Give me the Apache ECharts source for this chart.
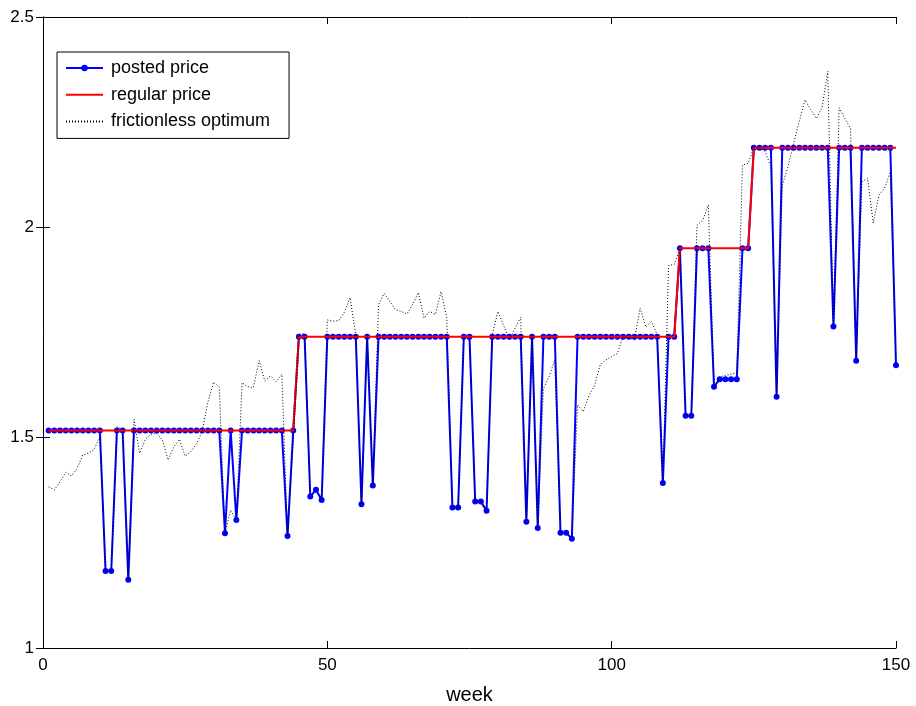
<!DOCTYPE html>
<html>
<head>
<meta charset="utf-8">
<script src="https://cdn.jsdelivr.net/npm/echarts@6/dist/echarts.min.js"></script>
<style>
html,body{margin:0;padding:0;background:#fff;}
#chart{width:916px;height:706px;}
</style>
</head>
<body>
<div id="chart"></div>
<script>
// weeks 1..150
const weeks = Array.from({length: 150}, (_, i) => i + 1);

const postedPrice = [
  1.517,1.517,1.517,1.517,1.517,1.517,1.517,1.517,1.517,1.517,      // 1-10
  1.183,1.183,1.517,1.517,1.162,1.517,1.517,1.517,1.517,1.517,      // 11-20
  1.517,1.517,1.517,1.517,1.517,1.517,1.517,1.517,1.517,1.517,      // 21-30
  1.517,1.273,1.517,1.304,1.517,1.517,1.517,1.517,1.517,1.517,      // 31-40
  1.517,1.517,1.266,1.517,1.74,1.74,1.36,1.376,1.352,1.74,          // 41-50
  1.74,1.74,1.74,1.74,1.74,1.342,1.74,1.386,1.74,1.74,              // 51-60
  1.74,1.74,1.74,1.74,1.74,1.74,1.74,1.74,1.74,1.74,                // 61-70
  1.74,1.334,1.334,1.74,1.74,1.348,1.348,1.326,1.74,1.74,           // 71-80
  1.74,1.74,1.74,1.74,1.30,1.74,1.285,1.74,1.74,1.74,               // 81-90
  1.274,1.274,1.26,1.74,1.74,1.74,1.74,1.74,1.74,1.74,              // 91-100
  1.74,1.74,1.74,1.74,1.74,1.74,1.74,1.74,1.392,1.74,               // 101-110
  1.74,1.95,1.552,1.552,1.95,1.95,1.95,1.621,1.639,1.639,           // 111-120
  1.639,1.639,1.95,1.95,2.189,2.189,2.189,2.189,1.597,2.189,        // 121-130
  2.189,2.189,2.189,2.189,2.189,2.189,2.189,2.189,1.764,2.189,      // 131-140
  2.189,2.189,1.683,2.189,2.189,2.189,2.189,2.189,2.189,1.672       // 141-150
];

const regularPrice = [
  1.517,1.517,1.517,1.517,1.517,1.517,1.517,1.517,1.517,1.517,
  1.517,1.517,1.517,1.517,1.517,1.517,1.517,1.517,1.517,1.517,
  1.517,1.517,1.517,1.517,1.517,1.517,1.517,1.517,1.517,1.517,
  1.517,1.517,1.517,1.517,1.517,1.517,1.517,1.517,1.517,1.517,
  1.517,1.517,1.517,1.517,1.74,1.74,1.74,1.74,1.74,1.74,
  1.74,1.74,1.74,1.74,1.74,1.74,1.74,1.74,1.74,1.74,
  1.74,1.74,1.74,1.74,1.74,1.74,1.74,1.74,1.74,1.74,
  1.74,1.74,1.74,1.74,1.74,1.74,1.74,1.74,1.74,1.74,
  1.74,1.74,1.74,1.74,1.74,1.74,1.74,1.74,1.74,1.74,
  1.74,1.74,1.74,1.74,1.74,1.74,1.74,1.74,1.74,1.74,
  1.74,1.74,1.74,1.74,1.74,1.74,1.74,1.74,1.74,1.74,
  1.74,1.95,1.95,1.95,1.95,1.95,1.95,1.95,1.95,1.95,
  1.95,1.95,1.95,1.95,2.189,2.189,2.189,2.189,2.189,2.189,
  2.189,2.189,2.189,2.189,2.189,2.189,2.189,2.189,2.189,2.189,
  2.189,2.189,2.189,2.189,2.189,2.189,2.189,2.189,2.189,2.189
];

const frictionlessOptimum = [
  1.383,1.376,1.395,1.418,1.409,1.427,1.459,1.463,1.472,1.502,      // 1-10
  1.183,1.183,1.526,1.520,1.162,1.544,1.463,1.496,1.508,1.510,      // 11-20
  1.494,1.447,1.478,1.496,1.456,1.467,1.485,1.515,1.585,1.632,      // 21-30
  1.620,1.273,1.328,1.304,1.631,1.621,1.619,1.683,1.635,1.647,      // 31-40
  1.633,1.651,1.266,1.490,1.745,1.748,1.360,1.376,1.352,1.780,      // 41-50
  1.777,1.778,1.798,1.833,1.744,1.342,1.745,1.386,1.816,1.843,      // 51-60
  1.824,1.804,1.800,1.794,1.817,1.845,1.784,1.800,1.793,1.847,      // 61-70
  1.785,1.334,1.334,1.740,1.730,1.348,1.348,1.326,1.745,1.800,      // 71-80
  1.767,1.732,1.760,1.786,1.300,1.740,1.285,1.617,1.645,1.685,      // 81-90
  1.274,1.274,1.260,1.578,1.562,1.600,1.624,1.674,1.685,1.693,      // 91-100
  1.700,1.740,1.738,1.732,1.808,1.763,1.776,1.745,1.392,1.909,      // 101-110
  1.912,1.950,1.552,1.552,2.005,2.017,2.053,1.621,1.644,1.648,      // 111-120
  1.651,1.654,2.148,2.152,2.190,2.190,2.180,2.144,1.597,2.100,      // 121-130
  2.144,2.200,2.253,2.303,2.280,2.259,2.285,2.371,1.764,2.284,      // 131-140
  2.259,2.235,1.683,2.108,2.117,2.010,2.077,2.093,2.132,1.672       // 141-150
];

const xTicks = [0, 50, 100, 150];
const yTicks = [1, 1.5, 2, 2.5];

const pair = arr => weeks.map((w, i) => [w, arr[i]]);

const chart = echarts.init(document.getElementById('chart'), null, {renderer: 'canvas'});
const FONT = 'Liberation Sans, Arial, sans-serif';

const axisCommon = {
  axisLine: {show: true, lineStyle: {color: '#000', width: 1}},
  axisTick: {show: true, inside: true, length: 7, lineStyle: {color: '#000', width: 1}},
  splitLine: {show: false}
};

chart.setOption({
  animation: false,
  backgroundColor: '#fff',
  grid: {left: 43, right: 20, top: 17, bottom: 58, show: false,
         containLabel: false, outerBoundsMode: 'none'},
  legend: {
    orient: 'vertical',
    left: 57,
    top: 52,
    backgroundColor: '#fff',
    borderColor: '#000',
    borderWidth: 1,
    borderRadius: 0,
    padding: [7, 19, 8, 8],
    itemWidth: 37,
    itemHeight: 8,
    itemGap: 8.7,
    textStyle: {fontFamily: FONT, fontSize: 18, color: '#000', padding: [0, 0, 0, 3]},
    data: [
      {name: 'posted price'},
      {name: 'regular price', itemStyle: {opacity: 0}},
      {name: 'frictionless optimum', itemStyle: {opacity: 0}}
    ]
  },
  xAxis: [
    Object.assign({
      type: 'value', min: xTicks[0], max: xTicks[xTicks.length - 1], interval: 50,
      position: 'bottom',
      name: 'week', nameLocation: 'middle', nameGap: 37,
      nameTextStyle: {fontFamily: FONT, fontSize: 20, color: '#000'},
      axisLabel: {fontFamily: FONT, fontSize: 17, color: '#000', margin: 9}
    }, axisCommon),
    Object.assign({
      type: 'value', min: xTicks[0], max: xTicks[xTicks.length - 1], interval: 50,
      position: 'top', axisLabel: {show: false}
    }, axisCommon)
  ],
  yAxis: [
    Object.assign({
      type: 'value', min: yTicks[0], max: yTicks[yTicks.length - 1], interval: 0.5,
      position: 'left',
      axisLabel: {fontFamily: FONT, fontSize: 17, color: '#000', margin: 9,
        formatter: v => String(+v.toFixed(2))}
    }, axisCommon),
    Object.assign({
      type: 'value', min: yTicks[0], max: yTicks[yTicks.length - 1], interval: 0.5,
      position: 'right', axisLabel: {show: false}
    }, axisCommon)
  ],
  series: [
    {
      name: 'posted price', type: 'line', data: pair(postedPrice),
      symbol: 'circle', symbolSize: 6, showSymbol: true,
      lineStyle: {color: '#0000ff', width: 2},
      itemStyle: {color: '#0000ff'},
      z: 2
    },
    {
      name: 'regular price', type: 'line', data: pair(regularPrice),
      symbol: 'none', showSymbol: false,
      lineStyle: {color: '#ff0000', width: 2},
      itemStyle: {color: '#ff0000'},
      z: 3
    },
    {
      name: 'frictionless optimum', type: 'line', data: pair(frictionlessOptimum),
      symbol: 'none', showSymbol: false,
      lineStyle: {color: '#000', width: 1, type: [1, 2]},
      itemStyle: {color: '#000'},
      z: 4
    }
  ]
});
</script>
</body>
</html>
